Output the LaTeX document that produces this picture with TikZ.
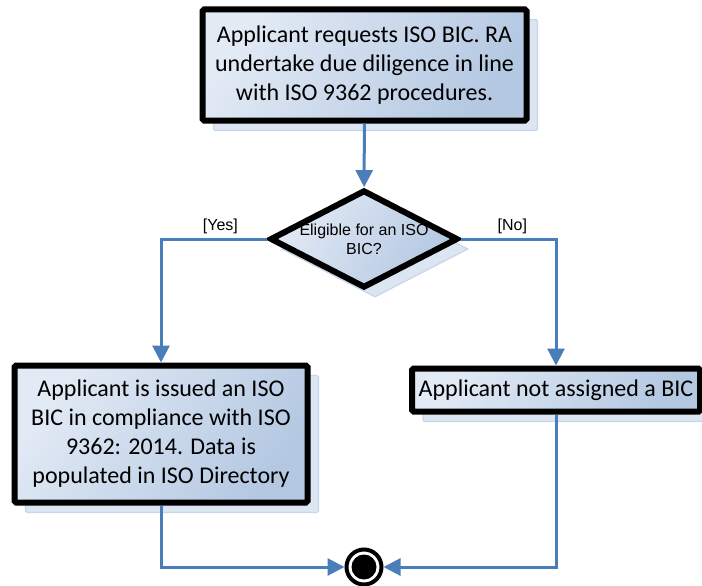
\documentclass[tikz,border=0pt]{standalone}
\usepackage{fontspec}
\setmainfont{Carlito}
\newfontfamily\labelfont{Liberation Sans}
\usetikzlibrary{arrows.meta, shapes.geometric, shadows}
\definecolor{flowblue}{RGB}{74, 126, 187}
\definecolor{boxlight}{RGB}{226, 234, 245}
\definecolor{boxdark}{RGB}{180, 200, 226}
\definecolor{shadeblue}{RGB}{220, 230, 242}

\begin{document}
\begin{tikzpicture}[x=1pt, y=-1pt, every node/.style={font=\fontsize{24}{29}\selectfont},
                    stepshadow/.style={general shadow={shadow xshift=11pt, shadow yshift=-10pt,
                                       fill=shadeblue, draw=shadeblue!85!flowblue, line width=1.2pt}},
                    box/.style={draw, line width=6pt, rounded corners=1.5pt, align=center,
                                top color=boxlight, bottom color=boxdark, shading angle=55, stepshadow},
                    decision/.style={diamond, draw, line width=6pt, align=center, aspect=1.92,
                                     inner xsep=-4pt, inner ysep=0pt,
                                     top color=boxlight, bottom color=boxdark, shading angle=55, stepshadow,
                                     font=\labelfont\fontsize{16}{19}\selectfont},
                    flow/.style={-{Triangle[length=17pt, width=17pt]}, flowblue, line width=3pt},
                    guard/.style={font=\labelfont\fontsize{16}{19}\selectfont, text=black, above, inner sep=4pt}]
  \useasboundingbox (0,0) rectangle (702,586);

  \node[box, minimum width=324pt, minimum height=111pt] (ask) at (364.5,65)
    {Applicant requests ISO BIC. RA\\ undertake due diligence in line\\ with ISO 9362 procedures.};
  \node[decision, minimum width=188pt, minimum height=98pt] (check) at (364,239)
    {Eligible for an ISO\\ BIC?};
  \node[box, minimum width=293pt, minimum height=137pt] (issued) at (161,434)
    {Applicant is issued an ISO\\ BIC in compliance with ISO\\ 9362: 2014. Data is\\ populated in ISO Directory};
  \node[box, minimum width=288pt, minimum height=43pt] (refused) at (556,390)
    {Applicant not assigned a BIC};

  % final state
  \node[circle, draw, line width=4pt, fill=white, minimum size=35pt] (done) at (364,567) {};
  \node[circle, fill=black, minimum size=25pt] (donedot) at (done) {};

  \draw[flow] (ask) -- (check);
  \draw[flow] (check.west) -| node[guard, pos=0.22] {[Yes]} (issued);
  \draw[flow] (check.east) -| node[guard, pos=0.27] {[No]} (refused);
  \draw[flow] (issued) |- (done);
  \draw[flow] (refused) |- (done);
\end{tikzpicture}
\end{document}
